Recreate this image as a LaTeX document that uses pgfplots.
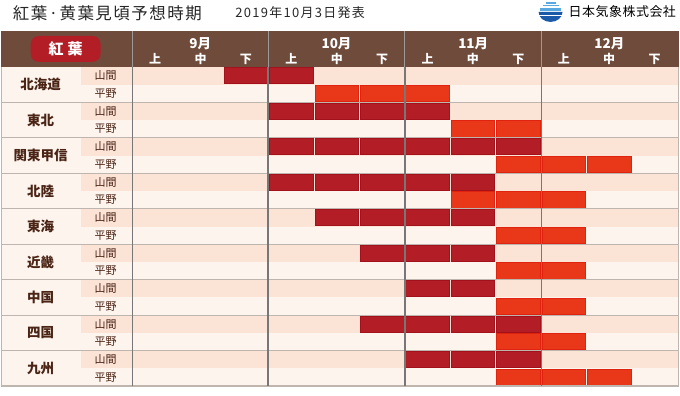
\documentclass[border=0pt]{standalone}
\usepackage{pgfplots}
\pgfplotsset{compat=1.18}
\usepackage{fontspec}
\setmainfont{Noto Sans CJK JP}
\definecolor{hdr}{HTML}{6F4B3C}
\definecolor{peach}{HTML}{FBE3D6}
\definecolor{lite}{HTML}{FDF4EE}
\definecolor{dred}{HTML}{B31D25}
\definecolor{dredB}{HTML}{A3121C}
\definecolor{ored}{HTML}{E83819}
\definecolor{oredB}{HTML}{E0230F}
\definecolor{sep}{HTML}{BDB5AE}
\definecolor{mline}{HTML}{777777}
\definecolor{txt}{HTML}{4A2415}
\definecolor{hsep}{HTML}{9A9A9A}
\definecolor{logoblue}{HTML}{1A5AA8}
\definecolor{logolight}{HTML}{5AA8E0}
\pgfdeclareplotmark{cell}{\pgfpathrectangle{\pgfpoint{-21.9pt}{-8.1pt}}{\pgfpoint{43.8pt}{16.2pt}}\pgfusepathqfillstroke}
\begin{document}
\begin{tikzpicture}
\path (0pt,0pt) rectangle (680pt,-396pt);
\begin{scope}[x=1pt,y=-1pt]
 % title
 \node[anchor=west,inner sep=0pt,font=\fontsize{16.5}{17}\selectfont,text=black!85] at (12,13)
   {紅\kern1.5pt 葉\kern1.5pt ·\kern1.5pt 黄\kern1.5pt 葉\kern1.5pt 見\kern1.5pt 頃\kern1.5pt 予\kern1.5pt 想\kern1.5pt 時\kern1.5pt 期};
 \node[anchor=west,inner sep=0pt,font=\fontsize{13}{13}\selectfont,text=black!85] at (235,13)
   {2\kern1.3pt 0\kern1.3pt 1\kern1.3pt 9\kern1.3pt 年\kern1.3pt 1\kern1.3pt 0\kern1.3pt 月\kern1.3pt 3\kern1.3pt 日\kern1.3pt 発\kern1.3pt 表};
 % logo
 \fill[logoblue] (539,12) arc (180:0:12 and 10) -- cycle;
 \fill[white] (539.5,15) rectangle (562.5,16.4);
 \fill[logolight] (540.5,8) rectangle (561.5,11);
 \fill[logolight] (543,5) rectangle (559,6.3);
 \fill[logolight] (546,2.5) rectangle (556,3.6);
 \node[anchor=west,inner sep=0pt,font=\fontsize{13}{13}\selectfont,text=black] at (569,12)
   {日\kern.5pt 本\kern.5pt 気\kern.5pt 象\kern.5pt 株\kern.5pt 式\kern.5pt 会\kern.5pt 社};
 % header
 \fill[hdr] (0,31) rectangle (680,67);
 \foreach \xx in {132,268,405,542} \draw[hsep,line width=1.2pt] (\xx,31) -- (\xx,67);
 \fill[dred,rounded corners=8pt] (30,36) rectangle (100,62);
 \node[text=white,font=\bfseries\fontsize{15}{15}\selectfont] at (65,49) {紅\hspace{4pt}葉};
 \foreach \m/\xc in {9月/200,10月/336.5,11月/473.5,12月/610}
   \node[text=white,font=\bfseries\fontsize{13.5}{14}\selectfont] at (\xc,44) {\m};
 \foreach \i in {0,1,2,3}{
   \foreach \d/\lab in {0/上,1/中,2/下}{
     \pgfmathsetmacro{\xc}{132+45.5*(3*\i+\d+0.5)}
     \node[text=white,font=\bfseries\fontsize{12}{12}\selectfont] at (\xc,59) {\lab};
   }
 }
 % row backgrounds
 \fill[lite] (0,67) rectangle (680,387);
 \foreach \k in {0,...,8}{
   \pgfmathsetmacro{\yt}{67+35.56*\k}
   \pgfmathsetmacro{\ym}{67+35.56*\k+17.78}
   \fill[peach] (80,\yt) rectangle (680,\ym);
 }
\end{scope}
\begin{axis}[at={(132pt,-67pt)},anchor=north west,width=546pt,height=320pt,scale only axis,
  xmin=0,xmax=12,ymin=0,ymax=18,y dir=reverse,hide axis,clip=false]
 % 山間 (dark red)
 \addplot[only marks,mark=cell,draw=dredB,fill=dred,line width=0.8pt] coordinates {
  (2.5,0.5)(3.5,0.5)
  (3.5,2.5)(4.5,2.5)(5.5,2.5)(6.5,2.5)
  (3.5,4.5)(4.5,4.5)(5.5,4.5)(6.5,4.5)(7.5,4.5)(8.5,4.5)
  (3.5,6.5)(4.5,6.5)(5.5,6.5)(6.5,6.5)(7.5,6.5)
  (4.5,8.5)(5.5,8.5)(6.5,8.5)(7.5,8.5)
  (5.5,10.5)(6.5,10.5)(7.5,10.5)
  (6.5,12.5)(7.5,12.5)
  (5.5,14.5)(6.5,14.5)(7.5,14.5)(8.5,14.5)
  (6.5,16.5)(7.5,16.5)(8.5,16.5)
 };
 % 平野 (orange red)
 \addplot[only marks,mark=cell,draw=oredB,fill=ored,line width=0.8pt] coordinates {
  (4.5,1.5)(5.5,1.5)(6.5,1.5)
  (7.5,3.5)(8.5,3.5)
  (8.5,5.5)(9.5,5.5)(10.5,5.5)
  (7.5,7.5)(8.5,7.5)(9.5,7.5)
  (8.5,9.5)(9.5,9.5)
  (8.5,11.5)(9.5,11.5)
  (8.5,13.5)(9.5,13.5)
  (8.5,15.5)(9.5,15.5)
  (8.5,17.5)(9.5,17.5)(10.5,17.5)
 };
\end{axis}
\begin{scope}[x=1pt,y=-1pt]
 % separators
 \foreach \k in {1,...,8}{
   \pgfmathsetmacro{\yy}{67+35.56*\k}
   \draw[sep,line width=1.2pt] (0,\yy) -- (680,\yy);
 }
 \draw[sep,line width=1.5pt] (0,387) -- (680,387);
 \draw[sep,line width=1.2pt] (0.6,67) -- (0.6,387);
 \draw[sep,line width=1.2pt] (679.4,67) -- (679.4,387);
 \foreach \xx in {132,268,405,542} \draw[mline,line width=1.4pt] (\xx,67) -- (\xx,387);
 % labels
 \foreach \k/\name in {0/北海道,1/東北,2/関東甲信,3/北陸,4/東海,5/近畿,6/中国,7/四国,8/九州}{
   \pgfmathsetmacro{\yc}{67+35.56*(\k+0.5)}
   \pgfmathsetmacro{\ya}{67+35.56*\k+8.89}
   \pgfmathsetmacro{\yb}{67+35.56*\k+26.67}
   \node[text=txt,font=\bfseries\fontsize{13.5}{14}\selectfont] at (40,\yc) {\name};
   \node[text=txt,font=\fontsize{11}{11}\selectfont] at (105,\ya) {山間};
   \node[text=txt,font=\fontsize{11}{11}\selectfont] at (105,\yb) {平野};
 }
\end{scope}
\end{tikzpicture}
\end{document}
